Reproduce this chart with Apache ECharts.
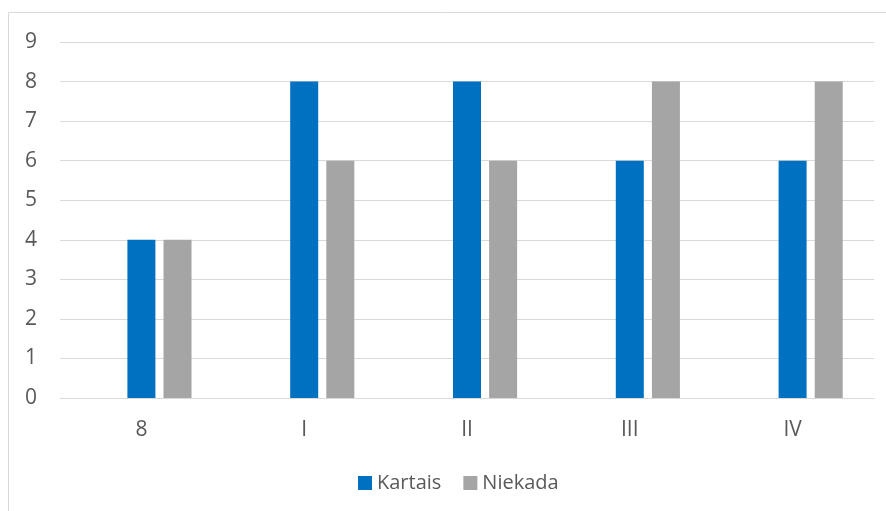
<!DOCTYPE html>
<html>
<head>
<meta charset="utf-8">
<script src="https://cdn.jsdelivr.net/npm/echarts@6/dist/echarts.min.js"></script>
<style>
  html, body { margin: 0; padding: 0; background: #fff; }
  #chart { width: 886px; height: 511px; }
</style>
</head>
<body>
<div id="chart"></div>
<script>
const categories = ['8', 'I', 'II', 'III', 'IV'];
const kartais = [4, 8, 8, 6, 6];
const niekada = [4, 6, 6, 8, 8];
// empty third slot in each group (the source chart reserves it, so the blue bar sits on the label)
const emptySlot = [null, null, null, null, null];

const chart = echarts.init(document.getElementById('chart'));
const font = '"Open Sans", sans-serif';

chart.setOption({
  animation: false,
  textStyle: { fontFamily: font },
  graphic: [{
    type: 'rect',
    shape: { x: 8.5, y: 12.5, width: 900, height: 520 },
    style: { fill: 'none', stroke: '#d9d9d9', lineWidth: 1 },
    silent: true
  }],
  grid: { left: 60, right: 12, top: 42, bottom: 113 },
  legend: {
    bottom: 13,
    left: 353,
    itemWidth: 14,
    itemHeight: 14,
    itemGap: 22,
    icon: 'rect',
    textStyle: { color: '#595959', fontSize: 20, fontFamily: font },
    data: ['Kartais', 'Niekada']
  },
  xAxis: {
    type: 'category',
    data: categories,
    axisLine: { lineStyle: { color: '#d9d9d9' } },
    axisTick: { show: false },
    axisLabel: { color: '#595959', fontSize: 21, margin: 22 }
  },
  yAxis: {
    type: 'value',
    min: 0,
    max: 9,
    interval: 1,
    axisLine: { show: false },
    axisTick: { show: false },
    axisLabel: { color: '#595959', fontSize: 21, margin: 23 },
    splitLine: { lineStyle: { color: '#d9d9d9' } }
  },
  series: [
    {
      name: 'empty',
      type: 'bar',
      data: emptySlot,
      barWidth: 28,
      barGap: '29%'
    },
    {
      name: 'Kartais',
      type: 'bar',
      data: kartais,
      barWidth: 28,
      itemStyle: { color: '#0070C0' }
    },
    {
      name: 'Niekada',
      type: 'bar',
      data: niekada,
      barWidth: 28,
      itemStyle: { color: '#A5A5A5' }
    }
  ]
});
</script>
</body>
</html>
